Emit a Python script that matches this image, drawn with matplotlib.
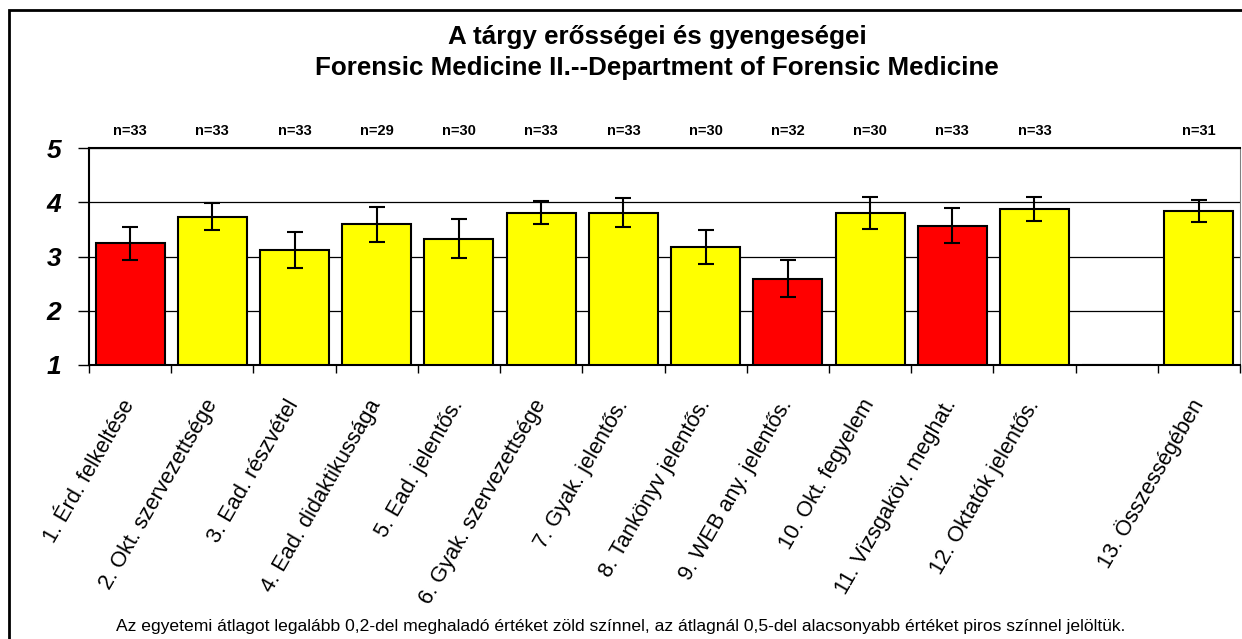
import numpy as np
import matplotlib.pyplot as plt
from matplotlib.patches import Rectangle

labels = ["1. Érd. felkeltése", "2. Okt. szervezettsége", "3. Ead. részvétel",
          "4. Ead. didaktikussága", "5. Ead. jelentős.", "6. Gyak. szervezettsége",
          "7. Gyak. jelentős.", "8. Tankönyv jelentős.", "9. WEB any. jelentős.",
          "10. Okt. fegyelem", "11. Vizsgaköv. meghat.", "12. Oktatók jelentős.",
          "", "13. Összességében"]
means = [3.24, 3.73, 3.12, 3.59, 3.33, 3.81, 3.81, 3.17, 2.59, 3.80, 3.57, 3.88, np.nan, 3.84]
errs = [0.30, 0.25, 0.33, 0.32, 0.36, 0.22, 0.26, 0.31, 0.34, 0.29, 0.32, 0.22, np.nan, 0.21]
counts = ["n=33", "n=33", "n=33", "n=29", "n=30", "n=33", "n=33", "n=30", "n=32",
          "n=30", "n=33", "n=33", "", "n=31"]
colors = ["#ff0000", "#ffff00", "#ffff00", "#ffff00", "#ffff00", "#ffff00", "#ffff00",
          "#ffff00", "#ff0000", "#ffff00", "#ff0000", "#ffff00", "#ffff00", "#ffff00"]

plt.rcParams['font.family'] = ['Liberation Sans', 'DejaVu Sans']

fig = plt.figure(figsize=(12.42, 6.39), dpi=100)
ax = fig.add_axes([89/1242, 1 - 365/639, 1151/1242, 217/639])

x = np.arange(len(labels))
heights = [m - 1 if not np.isnan(m) else 0 for m in means]
ax.bar(x, heights, bottom=1, width=0.84, color=colors, edgecolor='black', linewidth=1.5, zorder=3)
ok = ~np.isnan(np.array(means))
ax.errorbar(x[ok], np.array(means)[ok], yerr=np.array(errs)[ok], fmt='none', ecolor='black',
            elinewidth=1.5, capsize=6, capthick=1.5, zorder=4)

ax.set_xlim(-0.5, len(labels) - 0.5)
ax.set_ylim(1, 5)
ax.set_yticks([1, 2, 3, 4, 5])
ax.set_yticklabels(["1", "2", "3", "4", "5"], fontsize=19, fontweight='bold', style='italic')
ax.yaxis.grid(True, color='black', linewidth=0.9, zorder=0)
ax.tick_params(axis='y', length=8, width=1, pad=12)

ax.set_xticks(x)
ax.set_xticklabels(labels, rotation=60, ha='right', va='center', rotation_mode='anchor',
                   fontsize=15.7)
ax.tick_params(axis='x', length=0, pad=26)
ax.set_xticks(np.arange(len(labels) + 1) - 0.5, minor=True)
ax.tick_params(axis='x', which='minor', length=6, width=1)

for s in ['left', 'bottom', 'top']:
    ax.spines[s].set_linewidth(1.5)
ax.spines['right'].set_color('#808080')

for xi, c in zip(x, counts):
    ax.text(xi, 1.078, c, transform=ax.get_xaxis_transform(),
            ha='center', va='center', fontsize=10.5, fontweight='bold')

fig.text(657/1242, 1 - 37/639, "A tárgy erősségei és gyengeségei", ha='center', va='center',
         fontsize=18.7, fontweight='bold')
fig.text(657/1242, 1 - 68/639, "Forensic Medicine II.--Department of Forensic Medicine",
         ha='center', va='center', fontsize=18.7, fontweight='bold')
fig.text(0.5, 1 - 626/639, "Az egyetemi átlagot legalább 0,2-del meghaladó értéket zöld színnel, "
         "az átlagnál 0,5-del alacsonyabb értéket piros színnel jelöltük.", ha='center', va='center',
         fontsize=12.6)

fig.patches.append(Rectangle((9/1242, -0.1), 1.2, 1 - 10/639 + 0.1, transform=fig.transFigure,
                             fill=False, edgecolor='black', linewidth=2))

fig.savefig("out.png", dpi=100)
